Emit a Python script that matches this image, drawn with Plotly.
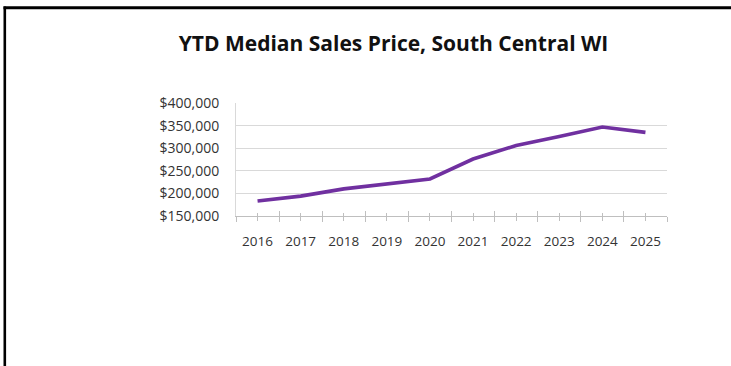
import plotly.graph_objects as go

# Data
years = ["2016", "2017", "2018", "2019", "2020", "2021", "2022", "2023", "2024", "2025"]
median_price = [183000, 194000, 210000, 221000, 232000, 276000, 306000, 326000, 347000, 335000]
y_ticks = [150000, 200000, 250000, 300000, 350000, 400000]
y_labels = ["$150,000", "$200,000", "$250,000", "$300,000", "$350,000", "$400,000"]

W, H = 731, 366
ML, MR, MT, MB = 236, 64, 103, 150
PW, PH = W - ML - MR, H - MT - MB

xpos = list(range(len(years)))
boundaries = [i - 0.5 for i in range(len(years) + 1)]

LABEL_FONT = "Open Sans"
AXIS_GRAY = "#BFBFBF"
TEXT_GRAY = "#333333"

fig = go.Figure()
fig.add_trace(go.Scatter(
    x=xpos, y=median_price, mode="lines",
    line=dict(color="#7030A0", width=3.6),
    hoverinfo="skip", showlegend=False,
))
# invisible trace that carries the overlay axis used for inward tick marks
fig.add_trace(go.Scatter(
    x=[xpos[0]], y=[median_price[0]], xaxis="x2", mode="markers",
    marker=dict(opacity=0), hoverinfo="skip", showlegend=False,
))


def px_to_paper_x(px):
    return (px - ML) / PW


def px_to_paper_y(py):
    return 1 - (py - MT) / PH


fig.update_layout(
    width=W, height=H,
    margin=dict(l=ML, r=MR, t=MT, b=MB, pad=0),
    paper_bgcolor="white", plot_bgcolor="white",
    title=dict(
        text="<b>YTD Median Sales Price, South Central WI</b>",
        font=dict(family=LABEL_FONT, size=21, color="#111111"),
        x=393.5 / W, xanchor="center", xref="container",
        y=1 - 44 / H, yanchor="middle", yref="container",
    ),
    xaxis=dict(
        range=[-0.5, len(years) - 0.5],
        tickmode="array", tickvals=xpos, ticktext=years,
        ticks="outside", ticklen=4, tickwidth=1, tickcolor=AXIS_GRAY,
        minor=dict(tickmode="array", tickvals=boundaries, ticks="outside",
                   ticklen=5, tickwidth=1, tickcolor=AXIS_GRAY, showgrid=False),
        showline=True, linecolor=AXIS_GRAY, linewidth=1,
        showgrid=False, zeroline=False,
        ticklabelstandoff=9,
        tickfont=dict(family=LABEL_FONT, size=13.5, color=TEXT_GRAY),
        fixedrange=True,
    ),
    xaxis2=dict(
        overlaying="x", matches="x", anchor="y", side="bottom",
        tickmode="array", tickvals=xpos,
        ticks="inside", ticklen=3, tickwidth=1, tickcolor=AXIS_GRAY,
        minor=dict(tickmode="array", tickvals=boundaries, ticks="inside",
                   ticklen=5, tickwidth=1, tickcolor=AXIS_GRAY, showgrid=False),
        showticklabels=False, showgrid=False, showline=False, zeroline=False,
    ),
    yaxis=dict(
        range=[150000, 400000],
        tickmode="array", tickvals=y_ticks, ticktext=y_labels,
        ticks="", showline=True, linecolor="#D9D9D9", linewidth=1,
        showgrid=True, gridcolor="#D9D9D9", gridwidth=1, zeroline=False,
        ticklabelstandoff=13,
        tickfont=dict(family=LABEL_FONT, size=14, color=TEXT_GRAY),
        fixedrange=True,
    ),
    shapes=[
        # dark frame along the top and left edges
        dict(type="line", xref="paper", yref="paper",
             x0=px_to_paper_x(3.5), x1=px_to_paper_x(731),
             y0=px_to_paper_y(7.7), y1=px_to_paper_y(7.7),
             line=dict(color="black", width=3)),
        dict(type="line", xref="paper", yref="paper",
             x0=px_to_paper_x(4.8), x1=px_to_paper_x(4.8),
             y0=px_to_paper_y(6.5), y1=px_to_paper_y(366),
             line=dict(color="black", width=2.6)),
    ],
)

fig.write_html("out.html", config={"displayModeBar": False})
